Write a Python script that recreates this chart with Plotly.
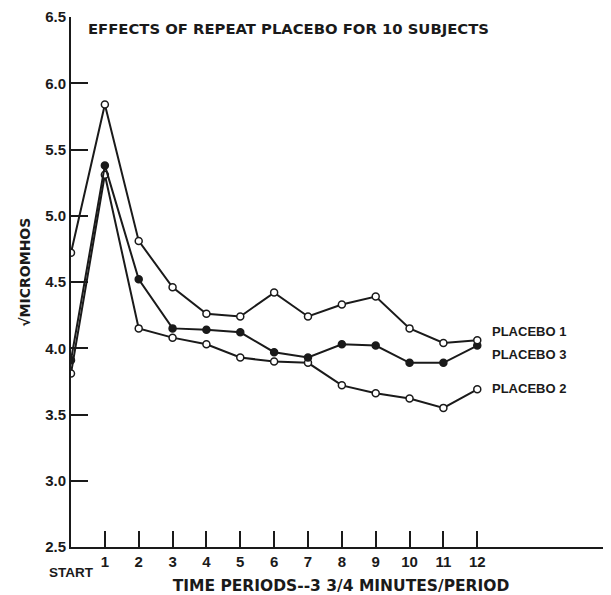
import plotly.graph_objects as go

periods = list(range(0, 13))
tick_labels = [""] + [str(i) for i in range(1, 13)]
start_label = "START"

placebo1 = [4.72, 5.84, 4.81, 4.46, 4.26, 4.24, 4.42, 4.24, 4.33, 4.39, 4.15, 4.04, 4.06]
placebo3 = [3.91, 5.38, 4.52, 4.15, 4.14, 4.12, 3.97, 3.93, 4.03, 4.02, 3.89, 3.89, 4.02]
placebo2 = [3.81, 5.31, 4.15, 4.08, 4.03, 3.93, 3.90, 3.89, 3.72, 3.66, 3.62, 3.55, 3.69]

series_names = ["PLACEBO 1", "PLACEBO 3", "PLACEBO 2"]
label_y = [4.13, 3.95, 3.70]

FONT = "Liberation Sans"
WIDE = "DejaVu Sans"
INK = "#1a1a1a"
fig = go.Figure()

def add(vals, name, filled):
    fig.add_trace(go.Scatter(
        x=periods, y=vals, mode="lines+markers", name=name,
        line=dict(color=INK, width=2),
        marker=dict(size=7, symbol="circle",
                    color=INK if filled else "white",
                    line=dict(color=INK, width=1.5)),
        showlegend=False))

add(placebo2, series_names[2], False)
add(placebo3, series_names[1], True)
add(placebo1, series_names[0], False)

for name, yv in zip(series_names, label_y):
    fig.add_annotation(x=12.39, y=yv, text=name, showarrow=False, xanchor="left",
                       yanchor="middle", font=dict(family=FONT, size=13, color=INK, weight="bold"))

fig.add_annotation(x=0.45, y=6.41, text="EFFECTS OF REPEAT PLACEBO FOR 10 SUBJECTS", showarrow=False,
                   xanchor="left", yanchor="middle",
                   font=dict(family=WIDE, size=14.8, color=INK, weight="bold"))

fig.add_annotation(x=0.02, y=0, yref="paper", text=start_label, showarrow=False,
                   xanchor="center", yanchor="top", yshift=-16,
                   font=dict(family=FONT, size=13.5, color=INK, weight="bold"))

fig.add_annotation(x=0, xref="paper", y=4.57, text="√MICROMHOS", showarrow=False,
                   textangle=-90, xanchor="center", yanchor="middle", xshift=-46,
                   font=dict(family=WIDE, size=14, color=INK, weight="bold"))

fig.update_xaxes(range=[0, 15.95], tickvals=periods, ticktext=tick_labels,
                 ticks="inside", ticklen=16, tickwidth=2, tickcolor=INK,
                 showline=True, linecolor=INK, linewidth=2, showgrid=False, zeroline=False,
                 tickfont=dict(family=FONT, size=15, color=INK, weight="bold"),
                 title=dict(text="TIME PERIODS--3 3/4 MINUTES/PERIOD", standoff=12,
                            font=dict(family=WIDE, size=15.5, color=INK, weight="bold")))
fig.update_yaxes(range=[2.5, 6.5], tickvals=[2.5, 3.0, 3.5, 4.0, 4.5, 5.0, 5.5, 6.0, 6.5],
                 ticktext=["2.5", "3.0", "3.5", "4.0", "4.5", "5.0", "5.5", "6.0", "6.5"],
                 ticks="inside", ticklen=17, tickwidth=2, tickcolor=INK,
                 showline=True, linecolor=INK, linewidth=2, showgrid=False, zeroline=False,
                 tickfont=dict(family=FONT, size=15, color=INK, weight="bold"))

# page body has an 8px margin, so the figure is offset by (8, 8)
fig.update_layout(width=603, height=587, margin=dict(l=63, r=0, t=9, b=48),
                  paper_bgcolor="white", plot_bgcolor="white")

fig.write_html("out.html")
